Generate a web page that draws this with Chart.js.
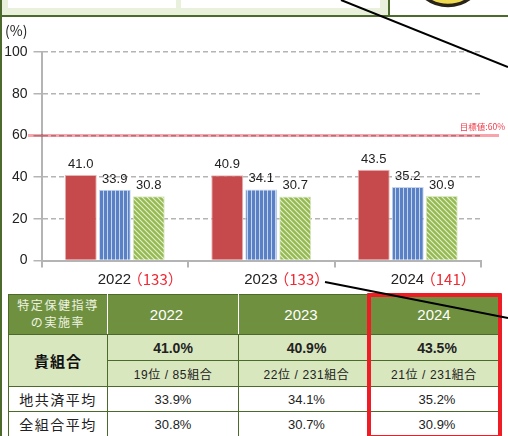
<!DOCTYPE html>
<html lang="ja">
<head>
<meta charset="utf-8">
<script src="https://cdn.jsdelivr.net/npm/chart.js@4"></script>
<style>
  html, body { margin: 0; padding: 0; background: #fff; }
  body { width: 508px; height: 436px; overflow: hidden; position: relative; font-family: "Liberation Sans", "Noto Sans CJK JP", sans-serif; color: #222; }
  #barChart { position: absolute; left: 0; top: 0; }
  #topStrip { position: absolute; left: 0; top: 0; width: 389px; height: 15px; background: #e9f1dd; border-bottom: 2px solid #4c6a2c; }
  #topRight { position: absolute; left: 388px; top: 0; width: 120px; height: 15px; background: #fff; border-left: 2px solid #4c6a2c; border-bottom: 2px solid #4c6a2c; box-sizing: content-box; }
  .topBox { position: absolute; top: 0; height: 8px; background: #fff; }
  #leftEdge { position: absolute; left: 0; top: 0; width: 1.5px; height: 436px; background: #4c6a2c; }
  #overlay { position: absolute; left: 0; top: 0; }
  table { position: absolute; left: 8px; top: 294px; width: 491px; border-collapse: collapse; table-layout: fixed; font-size: 13px; text-align: center; }
  td, th { border: 1.5px solid #4c6a2c; padding: 0; font-weight: normal; }
  thead th { background: #6f913f; color: #fff; height: 39px; border-right-color: #fff; font-size: 15px; }
  thead th:first-child { font-size: 12px; line-height: 17px; letter-spacing: 1.6px; color: #eef3e2; }
  thead th:nth-child(2) { padding-right: 13px; }
  thead th:nth-child(3) { padding-right: 5px; }
  .own { background: #d9e7bf; }
  .own.pct { font-weight: bold; font-size: 14px; height: 25px; }
  .own.rank { font-size: 12px; height: 25px; letter-spacing: .6px; }
  .own.name { font-weight: bold; font-size: 15px; letter-spacing: 1px; color: #111; font-family: "Noto Sans CJK JP", sans-serif; }
  .plain { height: 24px; }
  .plain.name { font-size: 14px; letter-spacing: 1.5px; font-family: "Noto Sans CJK JP", sans-serif; }
  .shift { padding-left: 6px; }
  #redBox { position: absolute; left: 367px; top: 293px; width: 127px; height: 138px; border: 4px solid #ee1c25; border-radius: 1px; }
</style>
</head>
<body>
<div id="topStrip"></div>
<div class="topBox" style="left:8px;width:168px"></div>
<div class="topBox" style="left:181px;width:199px"></div>
<div id="topRight"></div>
<canvas id="barChart" width="508" height="290"></canvas>
<div id="leftEdge"></div>
<table id="rateTable">
  <colgroup><col style="width:99px"><col style="width:131px"><col style="width:130px"><col style="width:131px"></colgroup>
  <thead><tr id="headRow"></tr></thead>
  <tbody id="tableBody"></tbody>
</table>
<div id="redBox"></div>
<svg id="overlay" width="508" height="436">
  <circle cx="448" cy="-31" r="36.5" fill="#efd94f" stroke="#2a2418" stroke-width="3.5"></circle>
  <line x1="341" y1="0" x2="508" y2="67" stroke="#000" stroke-width="2"></line>
  <line x1="325" y1="282" x2="508" y2="318" stroke="#000" stroke-width="2"></line>
</svg>
<script>
const years = ["2022", "2023", "2024"];
const groupCounts = ["（133）", "（133）", "（141）"];
const ownRates = [41.0, 40.9, 43.5];
const chikyosaiRates = [33.9, 34.1, 35.2];
const allRates = [30.8, 30.7, 30.9];
const targetRate = 60;
const targetLabel = "目標値:60%";
const ownRanks = ["19位 / 85組合", "22位 / 231組合", "21位 / 231組合"];
const yTicks = [0, 20, 40, 60, 80, 100];

function stripePattern(width, height, base, light, draw) {
  const c = document.createElement("canvas");
  c.width = width;
  c.height = height;
  const g = c.getContext("2d");
  g.fillStyle = base;
  g.fillRect(0, 0, width, height);
  g.strokeStyle = light;
  g.fillStyle = light;
  draw(g);
  return g.createPattern(c, "repeat");
}

const blueStripes = stripePattern(4, 4, "#5a81c5", "#c4d4ec", (g) => {
  g.fillRect(3, 0, 1, 4);
});

const greenStripes = stripePattern(5, 5, "#95ba52", "#e4efd0", (g) => {
  g.lineWidth = 1.1;
  g.beginPath();
  g.moveTo(-1, -1);
  g.lineTo(6, 6);
  g.moveTo(-1, 4);
  g.lineTo(1, 6);
  g.moveTo(4, -1);
  g.lineTo(6, 1);
  g.stroke();
});

/* ---------- target line sits under the grid ---------- */
const targetLine = {
  id: "targetLine",
  beforeDatasetsDraw(chart) {
    const { ctx, scales } = chart;
    const y = scales.y.getPixelForValue(targetRate);
    ctx.save();
    ctx.globalCompositeOperation = "multiply";
    ctx.strokeStyle = "#f9a3ad";
    ctx.lineWidth = 3;
    ctx.beginPath();
    ctx.moveTo(28, y);
    ctx.lineTo(499, y);
    ctx.stroke();
    ctx.restore();
  },
};

/* ---------- value labels, x labels ---------- */
const annotations = {
  id: "annotations",
  afterDatasetsDraw(chart) {
    const { ctx, scales } = chart;
    const y = scales.y.getPixelForValue(targetRate);

    ctx.save();
    ctx.fillStyle = "#ef3b4a";
    ctx.font = '8.5px "Noto Sans CJK JP", sans-serif';
    ctx.textAlign = "right";
    ctx.textBaseline = "alphabetic";
    ctx.fillText(targetLabel, 505, y - 5);

    ctx.fillStyle = "#222";
    ctx.font = '13px "Liberation Sans", sans-serif';
    ctx.textAlign = "center";
    chart.data.datasets.forEach((ds, i) => {
      chart.getDatasetMeta(i).data.forEach((bar, j) => {
        ctx.fillText(ds.data[j].toFixed(1), bar.x, bar.y - 7);
      });
    });

    ctx.textBaseline = "middle";
    ctx.textAlign = "left";
    years.forEach((year, i) => {
      const left = scales.x.getPixelForValue(i) - 17;
      ctx.font = '15px "Liberation Sans", sans-serif';
      ctx.fillStyle = "#222";
      ctx.fillText(year, left, 280);
      ctx.font = '15px "Noto Sans CJK JP", sans-serif';
      ctx.fillStyle = "#ee2a35";
      ctx.fillText(groupCounts[i], left + 30, 279);
    });

    ctx.fillStyle = "#222";
    ctx.font = '14px "Noto Sans CJK JP", sans-serif';
    ctx.fillText("(%)", 5, 31);
    ctx.restore();
  },
};

function buildTable() {
  const head = document.getElementById("headRow");
  head.innerHTML = "<th>特定保健指導<br>の実施率</th>" + years.map((y) => `<th>${y}</th>`).join("");

  const pct = (v) => v.toFixed(1) + "%";
  const shifted = (i) => (i > 0 ? " shift" : "");
  const body = document.getElementById("tableBody");
  body.innerHTML =
    '<tr><td class="own name" rowspan="2">貴組合</td>' +
    ownRates.map((v, i) => `<td class="own pct${shifted(i)}">${pct(v)}</td>`).join("") +
    "</tr><tr>" +
    ownRanks.map((r, i) => `<td class="own rank${i === 1 ? " shift" : ""}">${r}</td>`).join("") +
    '</tr><tr><td class="plain name">地共済平均</td>' +
    chikyosaiRates.map((v, i) => `<td class="plain${shifted(i)}">${pct(v)}</td>`).join("") +
    '</tr><tr><td class="plain name">全組合平均</td>' +
    allRates.map((v, i) => `<td class="plain${shifted(i)}">${pct(v)}</td>`).join("") +
    "</tr>";
}

buildTable();

new Chart(document.getElementById("barChart"), {
  type: "bar",
  data: {
    labels: years,
    datasets: [
      { label: "貴組合", data: ownRates, backgroundColor: "#c64a4c", borderColor: "#e8b4b4" },
      { label: "地共済平均", data: chikyosaiRates, backgroundColor: blueStripes, borderColor: "#c4d4ec" },
      { label: "全組合平均", data: allRates, backgroundColor: greenStripes, borderColor: "#dbe8c4" },
    ],
  },
  options: {
    responsive: false,
    animation: false,
    layout: { padding: { left: 0, top: 52, right: 27, bottom: 0 } },
    datasets: { bar: { barPercentage: 0.94, categoryPercentage: 0.696, borderWidth: 1 } },
    plugins: { legend: { display: false }, tooltip: { enabled: false } },
    scales: {
      x: {
        afterFit: (s) => { s.height = 29.5; },
        border: { color: "#b4b4b4", width: 2 },
        grid: { drawOnChartArea: false, drawTicks: true, color: "#b4b4b4", lineWidth: 2, tickLength: 7 },
        ticks: { display: false },
      },
      y: {
        min: 0,
        max: 100,
        afterFit: (s) => { s.width = 41.5; },
        afterBuildTicks: (s) => { s.ticks = yTicks.map((value) => ({ value })); },
        border: { color: "#b4b4b4", width: 2, dash: [5, 3] },
        grid: { color: "#b4b4b4", lineWidth: 1.5, tickLength: 8, tickBorderDash: [] },
        ticks: { color: "#222", padding: 6, font: { family: '"Liberation Sans", sans-serif', size: 14 } },
      },
    },
  },
  plugins: [targetLine, annotations],
});
</script>
</body>
</html>
